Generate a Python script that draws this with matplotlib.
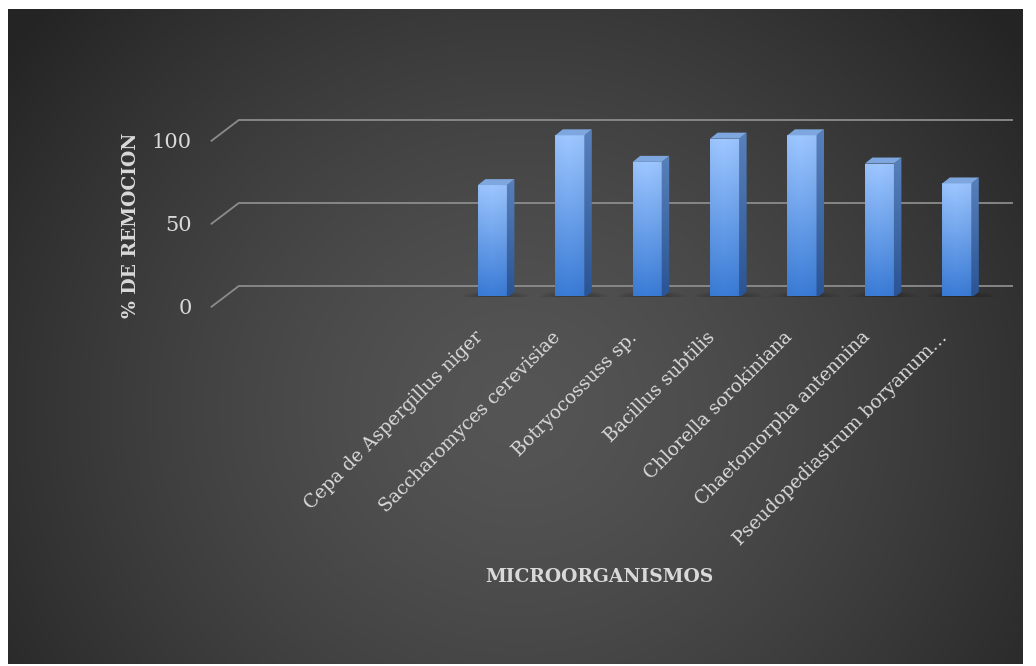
import numpy as np
import matplotlib
matplotlib.use("Agg")
import matplotlib.pyplot as plt
from matplotlib.patches import Polygon, Ellipse
from matplotlib.lines import Line2D
from matplotlib.transforms import IdentityTransform, ScaledTranslation
from matplotlib.colors import to_rgb

# ---------------- datos ----------------
categorias = ["", "", "",
              "Cepa de Aspergillus niger",
              "Saccharomyces cerevisiae",
              "Botryocossuss sp.",
              "Bacillus subtilis",
              "Chlorella sorokiniana",
              "Chaetomorpha antennina",
              "Pseudopediastrum boryanum…"]
remocion = [np.nan, np.nan, np.nan, 68, 98, 82, 96, 98, 81, 69]
ticks_y = [0, 50, 100]

titulo_y = "% DE REMOCION"
titulo_x = "MICROORGANISMOS"

# ---------------- estilo ----------------
W, H, DPI = 1036, 666, 100
DX, DY = 13.5, 10.25        # desplazamiento de profundidad (px)
SX, SY = 7.5, 6.0           # profundidad de cada barra (px)
TXT = "#d9d9d9"
plt.rcParams["font.family"] = ["DejaVu Serif"]

fig = plt.figure(figsize=(W / DPI, H / DPI), dpi=DPI)
fig.patch.set_facecolor("white")


def grad(c_top, c_bot, n=64):
    a, b = np.array(to_rgb(c_top)), np.array(to_rgb(c_bot))
    t = np.linspace(0, 1, n)[:, None]
    return a + (b - a) * t


# fondo con degradado radial
bg = fig.add_axes([8 / W, 2 / H, 1015 / W, 655 / H])
yy, xx = np.mgrid[0:655, 0:1015]
r = np.clip(np.sqrt(((xx - 510) / 640) ** 2 + ((yy - 400) / 600) ** 2), 0, 1)
c0, c1 = np.array(to_rgb("#555555")), np.array(to_rgb("#242424"))
bg.imshow(c0 + (c1 - c0) * (r ** 1.4)[..., None], aspect="auto", interpolation="bilinear")
bg.axis("off")

# ejes principales (plano medio de la profundidad)
ax = fig.add_axes([225 / W, (H - 296.5) / H, 774 / W, 199.2 / H])
ax.set_xlim(-0.5, len(categorias) - 0.5)
ax.set_ylim(0, 120)
ax.axis("off")
ax.patch.set_alpha(0)

back = ax.transData + ScaledTranslation(DX / DPI, DY / DPI, fig.dpi_scale_trans)
ax.hlines(ticks_y, -0.5, len(categorias) - 0.5, colors="#8c8c8c", lw=1.3,
          transform=back, clip_on=False, zorder=1)

for v in ticks_y:
    px, py = ax.transData.transform((-0.5, v))
    fig.add_artist(Line2D([px - DX, px + DX], [py - DY, py + DY], color="#8c8c8c",
                          lw=1.3, transform=IdentityTransform()))
    ax.text(-0.5, v, str(v), color=TXT, fontsize=15, ha="right", va="center",
            transform=ax.transData + ScaledTranslation(-(DX + 20) / DPI, -(DY + 2) / DPI, fig.dpi_scale_trans))

x = np.arange(len(categorias))
front = ax.transData + ScaledTranslation(-3.5 / DPI, -1.5 / DPI, fig.dpi_scale_trans)
bars = ax.bar(x, remocion, width=0.375, color="none", transform=front, zorder=4)

cara = grad("#9ec6fd", "#3a7ad3")
cara = cara[:, None, :] * np.array([0.93, 1.0, 1.02, 1.0, 0.97, 0.92])[None, :, None]
cara = np.clip(cara, 0, 1)
lado = grad("#5a82bd", "#2a5494")[:, None, :]

for i, rect in enumerate(bars):
    v = remocion[i]
    if not np.isfinite(v):
        continue
    bb = rect.get_window_extent()
    x0, y0, x1, y1 = bb.x0, bb.y0, bb.x1, bb.y1

    # sombra difusa en el piso
    for k in range(6):
        e = Ellipse(((x0 + x1) / 2 + 4, y0 + 1), 70 - 9 * k, 12 - 1.5 * k, color="black",
                    alpha=0.045, lw=0, transform=IdentityTransform(), zorder=2)
        ax.add_artist(e)

    im = ax.imshow(cara, extent=(i - 0.4, i + 0.4, 0, v + 2), aspect="auto",
                   interpolation="bilinear", zorder=4)
    im.set_clip_path(rect)

    side = Polygon([(x1, y0), (x1 + SX, y0 + SY), (x1 + SX, y1 + SY), (x1, y1)],
                   closed=True, transform=IdentityTransform(), facecolor="none", lw=0)
    ax.add_patch(side)
    ims = ax.imshow(lado, extent=(i - 0.4, i + 0.5, 0, v + 6), aspect="auto",
                    interpolation="bilinear", zorder=4)
    ims.set_clip_path(side)

    top = Polygon([(x0, y1), (x0 + SX, y1 + SY), (x1 + SX, y1 + SY), (x1, y1)],
                  closed=True, transform=IdentityTransform(), facecolor="#7ea6df",
                  edgecolor="none", zorder=5)
    ax.add_patch(top)

ax.set_xlim(-0.5, len(categorias) - 0.5)
ax.set_ylim(0, 120)

# etiquetas de categorias
lab_t = ax.transData + ScaledTranslation((-DX + 4) / DPI, -31.5 / DPI, fig.dpi_scale_trans)
for i, lab in enumerate(categorias):
    if lab:
        ax.text(i, 0, lab, rotation=45, ha="right", va="top", color=TXT,
                fontsize=13.4, transform=lab_t, clip_on=False)

fig.text(131 / W, 1 - 225 / H, titulo_y, rotation=90, ha="center", va="center",
         color=TXT, fontsize=13.5, fontweight="bold")
fig.text(599 / W, 1 - 577 / H, titulo_x, ha="center", va="center",
         color=TXT, fontsize=13.5, fontweight="bold")

fig.savefig("out.png", dpi=DPI, facecolor=fig.get_facecolor())
